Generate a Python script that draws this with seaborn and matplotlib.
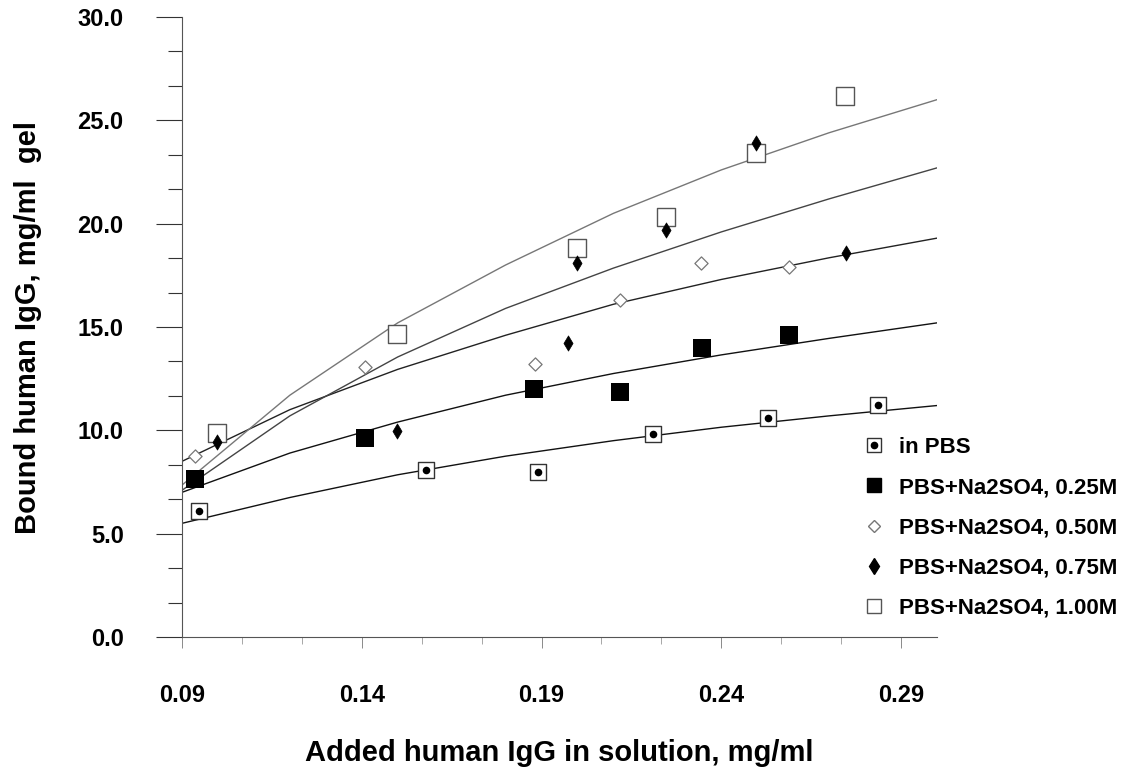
import numpy as np
import pandas as pd
import matplotlib
matplotlib.use("Agg")
import matplotlib.pyplot as plt
import seaborn as sns
from matplotlib.lines import Line2D
from matplotlib.legend_handler import HandlerTuple
from matplotlib.ticker import MultipleLocator, FixedLocator, FormatStrFormatter

sns.set_style("white")
plt.rcParams['font.family'] = ['Liberation Sans', 'DejaVu Sans']
plt.rcParams['font.weight'] = 'bold'
plt.rcParams['text.color'] = 'black'
plt.rcParams['axes.labelcolor'] = 'black'
plt.rcParams['xtick.color'] = 'black'
plt.rcParams['ytick.color'] = 'black'

#%% measured points (added IgG, bound IgG)
pbs_x = [0.0947, 0.1579, 0.1889, 0.2210, 0.2529, 0.2836]
pbs_y = [6.1, 8.1, 8.0, 9.8, 10.6, 11.25]

m025_x = [0.0936, 0.1410, 0.1878, 0.2119, 0.2346, 0.2587]
m025_y = [7.65, 9.65, 12.0, 11.85, 14.0, 14.6]

m050_x = [0.0936, 0.1410, 0.1883, 0.2119, 0.2343, 0.2587]
m050_y = [8.75, 13.05, 13.2, 16.3, 18.1, 17.9]

m075_x = [0.0997, 0.1498, 0.1975, 0.2000, 0.2246, 0.2496, 0.2748]
m075_y = [9.45, 9.95, 14.25, 18.1, 19.7, 23.9, 18.6]

m100_x = [0.0997, 0.1498, 0.2000, 0.2246, 0.2496, 0.2745]
m100_y = [9.85, 14.65, 18.8, 20.3, 23.4, 26.2]

#%% fitted curves
curve_x = [0.09, 0.12, 0.15, 0.18, 0.21, 0.24, 0.27, 0.30]
pbs_fit = [5.5, 6.75, 7.85, 8.75, 9.5, 10.15, 10.7, 11.2]
m025_fit = [7.0, 8.9, 10.4, 11.7, 12.75, 13.65, 14.45, 15.2]
m050_fit = [8.5, 11.0, 12.95, 14.6, 16.1, 17.3, 18.35, 19.3]
m075_fit = [7.1, 10.7, 13.55, 15.9, 17.85, 19.6, 21.2, 22.7]
m100_fit = [7.35, 11.7, 15.2, 18.0, 20.5, 22.6, 24.4, 26.0]

labels = ["in PBS", "PBS+Na2SO4, 0.25M", "PBS+Na2SO4, 0.50M",
          "PBS+Na2SO4, 0.75M", "PBS+Na2SO4, 1.00M"]
x_ticks = [0.09, 0.14, 0.19, 0.24, 0.29]
y_ticks = [0, 5, 10, 15, 20, 25, 30]

#%%
fig = plt.figure(figsize=(11.39, 7.69), dpi=100)
ax = fig.add_axes([182/1139, 132/769, 755/1139, 620/769])

fits = [pbs_fit, m025_fit, m050_fit, m075_fit, m100_fit]
line_cols = ["#111111", "#111111", "#222222", "#444444", "#777777"]
for f, c in zip(fits, line_cols):
    sns.lineplot(x=curve_x, y=f, ax=ax, color=c, linewidth=1.0, zorder=2)

# in PBS: open square with dot
sns.scatterplot(x=pbs_x, y=pbs_y, ax=ax, marker="s", s=120, color="white",
                edgecolor="#333333", linewidth=1.0, zorder=3)
sns.scatterplot(x=pbs_x, y=pbs_y, ax=ax, marker="o", s=30, color="black",
                edgecolor="black", linewidth=0, zorder=4)
# 0.25M filled square
sns.scatterplot(x=m025_x, y=m025_y, ax=ax, marker="s", s=150, color="black",
                edgecolor="black", linewidth=0, zorder=3)
# 0.50M open diamond
sns.scatterplot(x=m050_x, y=m050_y, ax=ax, marker="D", s=45, color="white",
                edgecolor="#777777", linewidth=0.9, zorder=3)
# 1.00M open square
sns.scatterplot(x=m100_x, y=m100_y, ax=ax, marker="s", s=150, color="white",
                edgecolor="#555555", linewidth=1.0, zorder=3)
# 0.75M small filled diamond
sns.scatterplot(x=m075_x, y=m075_y, ax=ax, marker="d", s=60, color="black",
                edgecolor="black", linewidth=0.5, zorder=4)

ax.set_xlim(0.09, 0.30)
ax.set_ylim(0, 30)
sns.despine(ax=ax)
for side in ["left", "bottom"]:
    ax.spines[side].set_color("#555555")
    ax.spines[side].set_linewidth(0.8)

ax.yaxis.set_major_locator(FixedLocator(y_ticks))
ax.yaxis.set_minor_locator(MultipleLocator(5 / 3))
ax.yaxis.set_major_formatter(FormatStrFormatter("%.1f"))
ax.xaxis.set_major_locator(FixedLocator(x_ticks))
ax.xaxis.set_minor_locator(FixedLocator(np.arange(0.09, 0.30, 0.05 / 3)))
ax.xaxis.set_major_formatter(FormatStrFormatter("%.2f"))

ax.tick_params(axis="y", which="major", direction="out", length=19, width=0.8,
               color="#333333", pad=23, labelsize=17, left=True)
ax.tick_params(axis="y", which="minor", direction="out", length=10, width=0.8,
               color="#333333", left=True)
ax.tick_params(axis="x", which="major", direction="out", length=8, width=0.6,
               color="#777777", pad=26, labelsize=17, bottom=True)
ax.tick_params(axis="x", which="minor", direction="out", length=5, width=0.6,
               color="#999999", bottom=True)

ax.set_xlabel("Added human IgG in solution, mg/ml", fontsize=21, fontweight="bold")
ax.set_ylabel("Bound human IgG, mg/ml  gel", fontsize=21, fontweight="bold")
ax.xaxis.set_label_coords(0.5, -0.164)
ax.yaxis.set_label_coords(-0.185, 0.5)

handles = [
    (Line2D([], [], marker="s", ls="none", ms=10, mfc="white", mec="#333333"),
     Line2D([], [], marker="o", ls="none", ms=4.5, mfc="black", mec="black")),
    Line2D([], [], marker="s", ls="none", ms=10, mfc="black", mec="black"),
    Line2D([], [], marker="D", ls="none", ms=6, mfc="white", mec="#777777"),
    Line2D([], [], marker="d", ls="none", ms=8, mfc="black", mec="black"),
    Line2D([], [], marker="s", ls="none", ms=10, mfc="white", mec="#555555"),
]
ax.legend(handles, labels, handler_map={tuple: HandlerTuple(ndivide=1, pad=0)},
          loc="upper left", bbox_to_anchor=(852/1139, 1 - 426/769),
          bbox_transform=fig.transFigure, frameon=False, borderpad=0,
          handlelength=1.0, handletextpad=0.6, labelspacing=0.86,
          prop={"size": 16, "weight": "bold"})

fig.savefig("out.png", dpi=100)
